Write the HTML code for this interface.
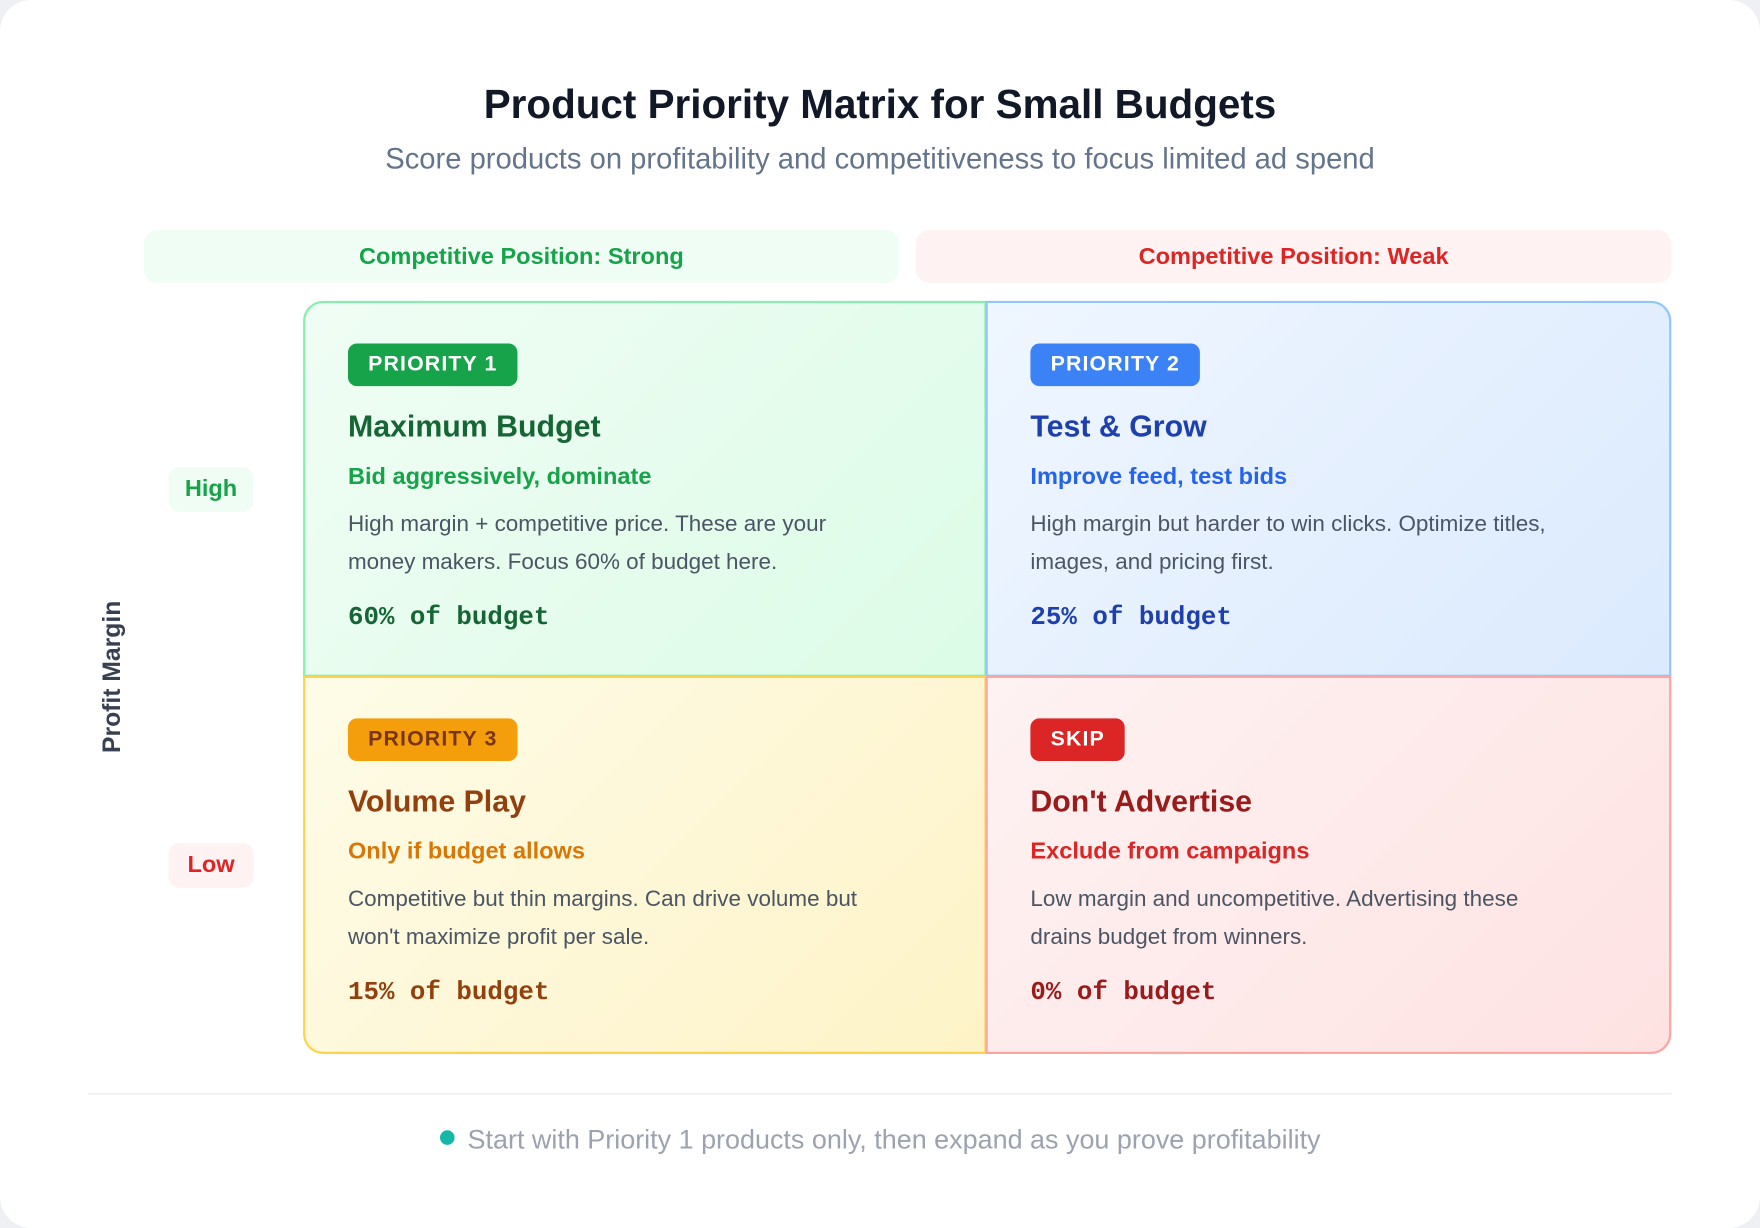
<!DOCTYPE html>
<html><head><meta charset="utf-8"><style>
html,body{margin:0;padding:0;width:1760px;height:1228px;overflow:hidden;background:#eef0f3;}
#w{position:absolute;left:0;top:0;width:1568px;height:1094px;transform:scale(1.12245);transform-origin:0 0;font-family:"Liberation Sans",sans-serif;}
.card{position:absolute;left:0;top:0;width:1568px;height:1094px;background:#fff;border-radius:28px;}
.t{position:absolute;left:0;width:1568px;text-align:center;}
.hdr{position:absolute;top:205px;height:47px;line-height:47px;text-align:center;border-radius:12px;font-weight:bold;font-size:21px;}
.q{position:absolute;box-sizing:border-box;border:2px solid;}
.q .b{position:absolute;left:38px;top:36px;height:38px;line-height:38px;padding:0 18px;border-radius:8px;color:#fff;font-weight:bold;font-size:19px;letter-spacing:1px;}
.q .h{position:absolute;left:38px;top:95px;font-weight:bold;font-size:27px;}
.q .s{position:absolute;left:38px;top:143px;font-weight:bold;font-size:21px;}
.q .p{position:absolute;left:38px;top:180px;width:485px;font-size:20px;line-height:34px;color:#4b5563;}
.q .m{position:absolute;left:38px;top:267px;font-family:"Liberation Mono",monospace;font-weight:bold;font-size:23px;}
.pill{position:absolute;left:150px;width:76px;height:40px;line-height:40px;text-align:center;border-radius:10px;font-size:21px;font-weight:bold;}
</style></head><body><div id="w">
<div class="card"></div>
<div class="t" style="top:72px;font-size:36px;font-weight:bold;color:#111827;">Product Priority Matrix for Small Budgets</div>
<div class="t" style="top:126px;font-size:26px;color:#64748b;">Score products on profitability and competitiveness to focus limited ad spend</div>
<div class="hdr" style="left:128px;width:673px;background:#f0fdf4;color:#16a34a;">Competitive Position: Strong</div>
<div class="hdr" style="left:816px;width:673px;background:#fef2f2;color:#dc2626;">Competitive Position: Weak</div>
<div class="pill" style="top:416px;background:#f0fdf4;color:#16a34a;">High</div>
<div class="pill" style="top:751px;background:#fef2f2;color:#dc2626;">Low</div>
<div style="position:absolute;left:100px;top:603px;transform:translate(-50%,-50%) rotate(-90deg);font-size:22px;font-weight:bold;color:#374151;white-space:nowrap;">Profit Margin</div>

<div class="q" style="left:270px;top:268px;width:609px;height:335px;border-color:#86efac;border-radius:18px 0 0 0;background:linear-gradient(135deg,#f0fdf4,#dcfce7);">
<div class="b" style="background:#16a34a;">PRIORITY 1</div><div class="h" style="color:#166534;">Maximum Budget</div><div class="s" style="color:#16a34a;">Bid aggressively, dominate</div><div class="p">High margin + competitive price. These are your money makers. Focus 60% of budget here.</div><div class="m" style="color:#166534;">60% of budget</div></div>

<div class="q" style="left:878px;top:268px;width:611px;height:335px;border-color:#93c5fd;border-radius:0 18px 0 0;background:linear-gradient(135deg,#eff6ff,#dbeafe);">
<div class="b" style="background:#3b82f6;">PRIORITY 2</div><div class="h" style="color:#1e40af;">Test &amp; Grow</div><div class="s" style="color:#2563eb;">Improve feed, test bids</div><div class="p">High margin but harder to win clicks. Optimize titles, images, and pricing first.</div><div class="m" style="color:#1e40af;">25% of budget</div></div>

<div class="q" style="left:270px;top:602px;width:609px;height:337px;border-color:#fcd34d;border-radius:0 0 0 18px;background:linear-gradient(135deg,#fefce8,#fef3c7);">
<div class="b" style="background:#f59e0b;color:#78350f;">PRIORITY 3</div><div class="h" style="color:#92400e;">Volume Play</div><div class="s" style="color:#d97706;">Only if budget allows</div><div class="p">Competitive but thin margins. Can drive volume but won't maximize profit per sale.</div><div class="m" style="color:#92400e;">15% of budget</div></div>

<div class="q" style="left:878px;top:602px;width:611px;height:337px;border-color:#fca5a5;border-radius:0 0 18px 0;background:linear-gradient(135deg,#fef2f2,#fee2e2);">
<div class="b" style="background:#dc2626;">SKIP</div><div class="h" style="color:#991b1b;">Don't Advertise</div><div class="s" style="color:#dc2626;">Exclude from campaigns</div><div class="p">Low margin and uncompetitive. Advertising these drains budget from winners.</div><div class="m" style="color:#991b1b;">0% of budget</div></div>

<div style="position:absolute;left:78px;top:974px;width:1411px;height:1px;background:#e5e7eb;"></div>
<div class="t" style="top:1002px;font-size:24px;color:#9ca3af;"><span style="display:inline-block;width:13px;height:13px;border-radius:50%;background:#14b8a6;margin-right:12px;vertical-align:3px;"></span>Start with Priority 1 products only, then expand as you prove profitability</div>
</div></body></html>
